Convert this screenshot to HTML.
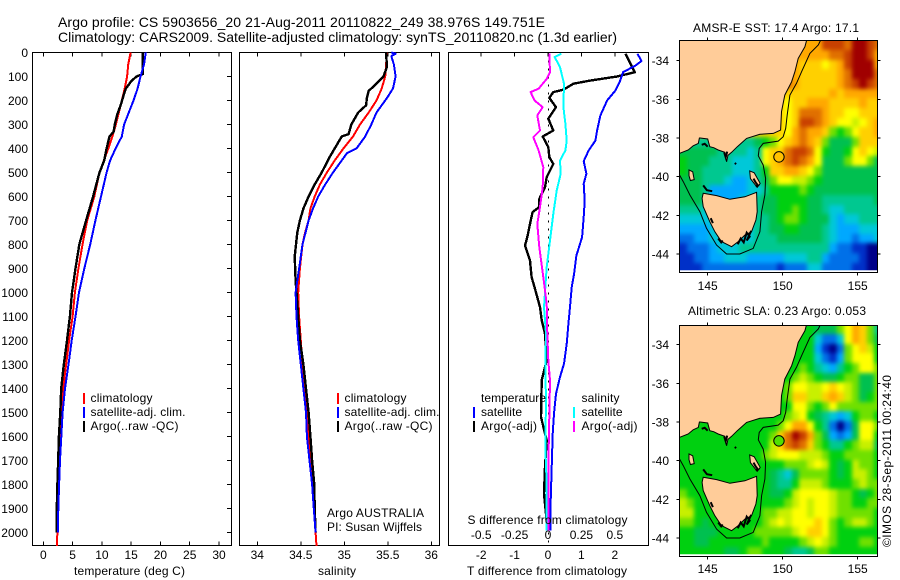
<!DOCTYPE html>
<html><head><meta charset="utf-8"><title>Argo profile</title>
<style>
html,body{margin:0;padding:0;background:#fff}
svg{display:block}
text{font-family:"Liberation Sans",sans-serif;font-size:12px;fill:#000}
.t{font-size:14px}
</style></head>
<body>
<svg id="chart" xmlns="http://www.w3.org/2000/svg" width="900" height="580" viewBox="0 0 900 580">
<text class="t" x="58" y="27" textLength="487">Argo profile: CS 5903656_20 21-Aug-2011 20110822_249 38.976S 149.751E</text>
<text class="t" x="58" y="42" textLength="559">Climatology: CARS2009. Satellite-adjusted climatology: synTS_20110820.nc (1.3d earlier)</text>
<g id="p1"></g>
<g id="p2"></g>
<g id="p3"></g>
<g id="m1"></g>
<g id="m2"></g>
<text x="776" y="32" text-anchor="middle" textLength="166">AMSR-E SST: 17.4 Argo: 17.1</text>
<text x="777" y="315" text-anchor="middle" textLength="178">Altimetric SLA: 0.23 Argo: 0.053</text>
<text transform="translate(891,547) rotate(-90)" textLength="172">©IMOS 28-Sep-2011 00:24:40</text>
<text x="129.5" y="575" text-anchor="middle" textLength="111">temperature (deg C)</text>
<text x="337" y="575" text-anchor="middle" textLength="38">salinity</text>
<text x="547" y="575" text-anchor="middle" textLength="160">T difference from climatology</text>
<text x="327" y="517" textLength="97">Argo AUSTRALIA</text>
<text x="327" y="531" textLength="95">PI: Susan Wijffels</text>
</svg>
<script>
const depthTicks=[0,100,200,300,400,500,600,700,800,900,1000,1100,1200,1300,1400,1500,1600,1700,1800,1900,2000];
const tempTicks=[0,5,10,15,20,25,30];
const salTicks=[34,34.5,35,35.5,36];
const salTickLabels=["34","34.5","35","35.5","36"];
const dTTicks=[-2,-1,0,1,2];
const dSTicks=[-0.5,-0.25,0,0.25,0.5];
const dSTickLabels=["-0.5","-0.25","0","0.25","0.5"];

const tClimD=[0,50,100,150,200,300,350,400,500,600,700,800,900,1000,1100,1200,1300,1400,1500,1600,1700,1800,1900,2000,2056];
const tClimV=[14.9,14.5,14.3,13.9,13.4,12.4,11.8,11.1,9.6,8.7,7.5,6.7,6.0,5.4,5.0,4.4,3.9,3.4,3.1,2.85,2.7,2.6,2.5,2.4,2.3];
const tSatD=[0,50,100,150,200,300,350,400,450,500,600,700,800,900,1000,1100,1200,1300,1400,1500,1600,1700,1800,1900,2000];
const tSatV=[17.5,17.2,16.6,16.1,15.4,13.8,13.4,12.35,11.4,10.8,9.85,8.9,8.0,7.0,6.1,5.5,4.85,4.3,3.7,3.3,3.07,2.85,2.7,2.56,2.5];
const tArgoD=[0,90,100,120,150,180,220,260,300,330,350,400,450,500,600,700,800,900,1000,1100,1200,1300,1400,1500,1600,1700,1800,1900,2000];
const tArgoV=[17.0,17.0,15.9,15,14.1,13.7,13.2,12.6,12.2,12,11.3,10.8,10.4,9.6,8.5,7.3,6.15,5.5,4.9,4.55,4.05,3.5,3.05,2.9,2.67,2.55,2.4,2.3,2.3];

const sClimD=[0,50,100,150,200,250,300,350,400,450,500,550,600,650,700,750,800,900,1000,1100,1200,1300,1400,1500,1600,1700,1800,1900,2000,2056];
const sClimV=[35.49,35.48,35.47,35.43,35.37,35.28,35.18,35.1,34.99,34.89,34.8,34.72,34.66,34.61,34.59,34.55,34.52,34.49,34.47,34.48,34.5,34.52,34.54,34.57,34.59,34.61,34.64,34.66,34.67,34.68];
const sSatD=[0,5,15,50,100,150,190,250,300,350,400,420,450,500,550,600,650,700,800,900,1000,1100,1200,1300,1400,1500,1600,1700,1800,1900,2000];
const sSatV=[35.54,35.59,35.54,35.57,35.59,35.56,35.49,35.37,35.31,35.24,35.14,35.03,34.97,34.87,34.78,34.7,34.64,34.59,34.52,34.48,34.44,34.45,34.47,34.5,34.53,34.56,34.57,34.6,34.63,34.65,34.67];
const sArgoD=[0,60,100,130,160,190,220,250,300,340,350,400,430,500,550,600,650,700,750,850,950,1000,1100,1200,1300,1400,1500,1600,1700,1800,1900,2000];
const sArgoV=[35.48,35.49,35.45,35.37,35.28,35.26,35.25,35.16,35.08,35.05,34.97,34.89,34.84,34.74,34.66,34.59,34.53,34.49,34.46,34.43,34.44,34.45,34.47,34.49,34.53,34.56,34.59,34.61,34.63,34.655,34.66,34.67];

const dTSatD=[5,36,54,82,124,158,200,262,325,367,408,453,505,547,617,686,769,846,922,978,1061,1130,1214,1297,1352,1422,1505,1589,1727,1866,1991];
const dTSatV=[2.68,2.8,2.62,2.25,2.14,2.02,1.77,1.57,1.47,1.42,1.22,1.07,1.15,1.07,1.1,1.07,1.02,0.85,0.78,0.71,0.66,0.61,0.56,0.48,0.36,0.24,0.18,0.14,0.11,0.08,0.08];
const dTArgoD=[5,47,82,100,117,130,155,165,189,228,276,325,350,394,436,464,519,561,610,644,665,714,769,804,867,936,985,1061,1116,1172,1283,1366,1519,1616,1727,1838,1922,1991];
const dTArgoV=[2.32,2.47,2.6,2.07,1.26,0.76,0.46,0.16,0.04,0.24,0.01,0.16,-0.16,0.01,0.04,0.16,-0.04,-0.09,-0.26,-0.26,-0.46,-0.54,-0.62,-0.69,-0.54,-0.49,-0.39,-0.24,-0.19,-0.09,-0.04,-0.19,-0.21,-0.04,-0.09,-0.12,-0.06,-0.02];
const dSSatD=[5,19,61,130,228,297,367,408,450,505,575,672,783,894,1061,1172,1311,1450,1644,1797,1991];
const dSSatV=[0.1,0.05,0.09,0.12,0.115,0.13,0.14,0.13,0.09,0.095,0.065,0.04,0.015,-0.01,-0.03,-0.015,-0.02,-0.015,-0.02,-0.01,-0.01];
const dSArgoD=[5,82,110,151,165,200,228,262,325,353,408,478,561,644,714,811,936,1047,1172,1283,1366,1519,1727,1991];
const dSArgoV=[0.01,0.015,-0.01,-0.07,-0.13,-0.1,-0.04,-0.08,-0.06,-0.11,-0.07,-0.035,-0.04,-0.06,-0.08,-0.065,-0.035,-0.01,-0.005,0.0025,0.015,0.01,0.0025,0.0025];

const heatPalette={"0":"#000088","1":"#0030c8","2":"#0070e8","3":"#00a8ff","4":"#00c8d8","5":"#00c890","6":"#00c050","7":"#00d010","8":"#70e000","9":"#c8f000","a":"#ffff00","b":"#ffd000","c":"#ffa800","d":"#e07000","e":"#c84000","f":"#a00000"};
const sstGrid=[
"ccccccccccccccccc"+"cceeedffed",
"cccccccccccccccc"+"ccccddeffec",
"ccccccccccccccc"+"cbbbabcefffc",
"ccccccccccccccc"+"cbbbbbcdfffd",
"cccccccccccccc"+"dcbbbbbcdefed",
"bbbbbbbbbbbbb"+"bbbbbbbcbccccc",
"bbbbbbbbbbbbb"+"babbcccbbbbcbb",
"bbbbbbbbbbbbb"+"babdddcbbaabbb",
"bbbbbbbbbbbbb"+"babeedcbaa9abc",
"bbbbbbbbbbbbb"+"bacdccb878abbc",
"5555555555"+"678abcdcb86668bbb",
"6666655554"+"5"+"abbdeeda7667aba9",
"7666555444"+"5"+"abcdedca6668aa86",
"7665555444"+"5"+"7bbccba866666666",
"6665554334"+"5"+"68aa998766666666",
"6665333334"+"4"+"5777787666666666",
"6665333344"+"5"+"6677776655555556",
"5554444444"+"5"+"6677876654455555",
"4444444444"+"5"+"5678876664344555",
"3333444444"+"5"+"5667766654333444",
"2233444444"+"5"+"5566666654332334",
"1222344455"+"5"+"5555555553221100",
"112233444333334445532222100",
"111222222222212224422221100"
];
const slaGrid=[
"77777777777777777"+"766688acb85".slice(0,3)+"68acb85",
"77777777777777777"+"74224acb86",
"77777777777777777"+"731028ab97",
"77777777777777777"+"742138aaa7",
"7777777777777777"+"87543578aa8",
"77777777777777"+"7898766788668",
"77777777777777"+"8aa99aba98668",
"77777777777777"+"8bb99bcb98678",
"77777777777777"+"7aa878a888888",
"77777777777777"+"89a7654347887",
"777777777777"+"78acca752026aa8",
"777777777777"+"8bdfec863236aa7",
"777777777777"+"9bdedb875578996",
"77777777777"+"89aaa99987788887",
"7777777777"+"77778889a97679887",
"77777777777"+"7654688887679987",
"77777777777"+"7655799987778988",
"87777777777"+"76679aaaa9887678",
"98777777777"+"77789a9aa9887788",
"99777777777"+"8899aa9aa9888887",
"88767777777"+"89a9aaaba8789987",
"77666777778"+"88889abba8777777",
"77667777777"+"8777789a98777887",
"77777766788"+"7776556887777777"
];
const landColor="#ffcc99";
const mainlandLon=[143.1,143.7,144.03,144.37,144.45,144.5,145.0,145.14,145.4,145.7,146.14,146.26,146.35,146.59,146.97,147.59,148.48,149.37,149.86,149.92,150.14,150.59,150.81,151.03,151.48,151.59,143.1];
const mainlandLat=[-38.8,-38.62,-38.4,-38.28,-38.0,-38.0,-38.05,-38.45,-38.5,-38.62,-38.74,-39.23,-38.9,-38.74,-38.45,-38.02,-37.81,-37.76,-37.59,-36.64,-35.78,-35.09,-34.57,-33.88,-33.28,-32.95,-32.95];
const tasmaniaLon=[144.7,145.59,146.48,147.48,148.26,148.3,148.21,147.92,147.48,147.03,146.59,145.92,145.48,145.14,144.7,144.63];
const tasmaniaLat=[-40.86,-40.98,-41.17,-41.04,-40.81,-41.81,-42.24,-42.85,-43.02,-43.36,-43.62,-43.36,-42.85,-42.33,-41.55,-41.12];
const kingLon=[143.75,144.0,144.1,143.85,143.75];
const kingLat=[-39.65,-39.75,-40.15,-40.2,-39.95];
const flindersLon=[147.8,148.1,148.5,148.3,147.85];
const flindersLat=[-39.7,-39.8,-40.35,-40.55,-40.1];
const shelfLon=[152.52,152.37,151.81,151.26,150.92,150.48,150.3,150.2,150.03,149.7,148.7,148.43,148.37,148.7,148.86,148.81,148.59,148.48,148.03,147.14,146.26,145.59,144.92,144.48,143.81,143.37,143.1];
const shelfLat=[-32.95,-33.19,-33.62,-34.57,-35.17,-35.78,-36.81,-37.5,-37.93,-38.16,-38.28,-38.54,-38.92,-39.4,-40.09,-40.95,-41.81,-42.85,-43.71,-44,-44,-43.54,-42.67,-41.81,-40.95,-40.26,-39.88];
const clutterLon=[[147.0,147.2,147.4,147.6,147.8,147.6,147.9],[145.7,145.9,146.0],[145.2,145.35],[144.7,144.95,145.3],[148.05,148.2,148.35,148.2],[146.1,146.2,146.3],[144.6,144.8,145.0],[146.8,146.9]];
const clutterLat=[[-43.5,-43.2,-43.4,-42.9,-43.1,-43.3,-42.8],[-43.2,-43.4,-43.3],[-42.15,-42.4],[-40.45,-40.7,-40.75],[-40.1,-40.3,-40.45,-40.5],[-38.75,-39.0,-38.7],[-38.35,-38.3,-38.45],[-39.3,-39.35]];
const floatLon=149.751;
const floatLat=-38.976;
const sstFloatColor="#ffc000";
const slaFloatColor="#50e000";
const mapLonTicks=[145,150,155];
const mapLatTicks=[-34,-36,-38,-40,-42,-44];

const SVGNS="http://www.w3.org/2000/svg";
function mk(tag,parent,attrs,txt){
  const el=document.createElementNS(SVGNS,tag);
  for(const k in attrs)el.setAttribute(k,attrs[k]);
  if(txt!==undefined)el.textContent=txt;
  parent.appendChild(el);
  return el;
}
const panelTop=52.5,panelBottom=545.5;
const yDepth=d=>52.5+d*0.24;
const xTemp=v=>43.3+v*5.857;
const xSal=v=>257.3+(v-34)*87;
const xDT=v=>548+v*33.4;
const xDS=v=>548+v*133.6;

function frame(g,x0,x1,name){
  const r=mk('rect',g,{x:x0,y:panelTop,width:x1-x0,height:panelBottom-panelTop,fill:'#fff',stroke:'#000','stroke-width':1,'shape-rendering':'crispEdges'});
  
  
}
function tickLine(g,x1,y1,x2,y2){
  const l=mk('line',g,{x1,y1,x2,y2,stroke:'#000','stroke-width':1,'shape-rendering':'crispEdges'});
  
  
}
function series(g,xs,ds,fx,color,w,name){
  const pts=xs.map((v,i)=>fx(v).toFixed(1)+','+yDepth(ds[i]).toFixed(1)).join(' ');
  const p=mk('polyline',g,{points:pts,fill:'none',stroke:color,'stroke-width':w,'stroke-linejoin':'round','shape-rendering':'crispEdges'});
  
  
}
function label(g,x,y,txt,anchor,name,len){
  const t=mk('text',g,{x,y,'text-anchor':anchor||'start'},txt);
  if(len)t.setAttribute('textLength',len);
  
  
}
function legendEntry(g,mx,tx,y,color,txt,name,len){
  const l=mk('rect',g,{x:mx,y:y-9,width:2,height:11,fill:color,'shape-rendering':'crispEdges'});
  
  
  label(g,tx,y,txt,'start',name,len);
}

/* temperature panel */
const p1=document.getElementById('p1');
frame(p1,32.5,231.5,'temperature-plot-frame');
tempTicks.forEach(v=>{tickLine(p1,xTemp(v),panelTop,xTemp(v),panelTop+4);tickLine(p1,xTemp(v),panelBottom,xTemp(v),panelBottom-4);label(p1,xTemp(v),559,String(v),'middle','temperature-tick-label');});
depthTicks.forEach(d=>{tickLine(p1,231.5,yDepth(d),227,yDepth(d));label(p1,28,yDepth(d)+4.5,String(d),'end','depth-tick-label');});
series(p1,tClimV,tClimD,xTemp,'#ff0000',2,'temperature-climatology-line');
series(p1,tArgoV,tArgoD,xTemp,'#000000',2.4,'temperature-argo-line');
series(p1,tSatV,tSatD,xTemp,'#0000ff',2,'temperature-satellite-line');
legendEntry(p1,83,90.5,402,'#ff0000','climatology','temperature-legend-climatology',62);
legendEntry(p1,83,90.5,416,'#0000ff','satellite-adj. clim.','temperature-legend-satellite',95);
legendEntry(p1,83,90.5,430,'#000000','Argo(..raw -QC)','temperature-legend-argo',88);

/* salinity panel */
const p2=document.getElementById('p2');
frame(p2,239.5,439.5,'salinity-plot-frame');
salTicks.forEach((v,i)=>{tickLine(p2,xSal(v),panelTop,xSal(v),panelTop+4);tickLine(p2,xSal(v),panelBottom,xSal(v),panelBottom-4);label(p2,xSal(v),559,salTickLabels[i],'middle','salinity-tick-label');});
series(p2,sClimV,sClimD,xSal,'#ff0000',2,'salinity-climatology-line');
series(p2,sArgoV,sArgoD,xSal,'#000000',2.4,'salinity-argo-line');
series(p2,sSatV,sSatD,xSal,'#0000ff',2,'salinity-satellite-line');
legendEntry(p2,337,344.5,402,'#ff0000','climatology','salinity-legend-climatology',62);
legendEntry(p2,337,344.5,416,'#0000ff','satellite-adj. clim.','salinity-legend-satellite',95);
legendEntry(p2,337,344.5,430,'#000000','Argo(..raw -QC)','salinity-legend-argo',88);

/* difference panel */
const p3=document.getElementById('p3');
frame(p3,448.5,648.5,'difference-plot-frame');
dTTicks.forEach(v=>{tickLine(p3,xDT(v),panelTop,xDT(v),panelTop+4);label(p3,xDT(v),559,String(v),'middle','t-difference-tick-label');});
dSTicks.forEach((v,i)=>{label(p3,xDS(v),539,dSTickLabels[i],'middle','s-difference-tick-label');});
const zl=mk('line',p3,{x1:xDT(0)+0.5,y1:panelTop,x2:xDT(0)+0.5,y2:panelBottom,stroke:'#000','stroke-width':1,'stroke-dasharray':'2 6','shape-rendering':'crispEdges'});


series(p3,dTArgoV,dTArgoD,xDT,'#000000',2.4,'t-difference-argo-line');
series(p3,dTSatV,dTSatD,xDT,'#0000ff',2,'t-difference-satellite-line');
series(p3,dSSatV,dSSatD,xDS,'#00ffff',2,'s-difference-satellite-line');
series(p3,dSArgoV,dSArgoD,xDS,'#ff00ff',2,'s-difference-argo-line');
label(p3,481,402,'temperature','start','difference-legend-temperature-heading',65);
label(p3,581.5,402,'salinity','start','difference-legend-salinity-heading',38);
legendEntry(p3,473,481,416,'#0000ff','satellite','difference-legend-t-satellite',41);
legendEntry(p3,473,481,430,'#000000','Argo(-adj)','difference-legend-t-argo',56);
legendEntry(p3,573,581.5,416,'#00ffff','satellite','difference-legend-s-satellite',41);
legendEntry(p3,573,581.5,430,'#ff00ff','Argo(-adj)','difference-legend-s-argo',56);
label(p3,547.5,524,'S difference from climatology','middle','s-difference-axis-title',160);

/* maps */
function drawMap(gid,clip,grid,top,bottom,lat34,floatColor,labelY){
  const g=document.getElementById(gid);
  const left=679.5,right=877.5;
  const fx=lon=>707.7+(lon-145)*15;
  const fy=lat=>lat34+(-34-lat)*19.33;
  const defs=mk('defs',g,{});
  const cp=mk('clipPath',defs,{id:clip});
  mk('rect',cp,{x:left,y:top,width:right-left,height:bottom-top});
  const cpHeat=mk('clipPath',defs,{id:clip+'Heat'});
  mk('rect',cpHeat,{x:left,y:top,width:right-left,height:bottom-top-2.2});
  const blur=mk('filter',defs,{id:clip+'Blur',filterUnits:'userSpaceOnUse',x:640,y:0,width:260,height:580,'color-interpolation-filters':'sRGB'});
  mk('feGaussianBlur',blur,{stdDeviation:2.2});
  const heatClip=mk('g',g,{'clip-path':'url(#'+clip+'Heat)'});
  const heat=mk('g',heatClip,{filter:'url(#'+clip+'Blur)'});
  
  
  grid.forEach((row,r)=>{
    for(let c=0;c<row.length;c++){
      let x0=Math.round(fx(143.1+c*0.5)),x1=Math.round(fx(143.6+c*0.5));
      let y0=Math.round(fy(-32.95-r*0.5)),y1=Math.round(fy(-33.45-r*0.5));
      if(c===0)x0-=14;
      if(c===row.length-1)x1+=14;
      if(r===0)y0-=14;
      if(r===grid.length-1)y1+=14;
      const cell=mk('rect',heat,{x:x0,y:y0,width:x1-x0,height:y1-y0,fill:heatPalette[row[c]],'shape-rendering':'crispEdges'});
      
      
    }
  });
  const area=mk('g',g,{'clip-path':'url(#'+clip+')'});
  const poly=(lons,lats,name)=>{
    const pts=lons.map((v,i)=>fx(v).toFixed(1)+','+fy(lats[i]).toFixed(1)).join(' ');
    const p=mk('polygon',area,{points:pts,fill:landColor,stroke:'#000','stroke-width':1});
    
    
  };
  poly(mainlandLon,mainlandLat,'mainland-land');
  poly(tasmaniaLon,tasmaniaLat,'tasmania-land');
  poly(kingLon,kingLat,'king-island-land');
  poly(flindersLon,flindersLat,'flinders-island-land');
  clutterLon.forEach((lons,i)=>{
    const pts=lons.map((v,j)=>fx(v).toFixed(1)+','+fy(clutterLat[i][j]).toFixed(1)).join(' ');
    const p=mk('polyline',area,{points:pts,fill:'none',stroke:'#000','stroke-width':2});
    
    
  });
  const sh=mk('polyline',area,{points:shelfLon.map((v,i)=>fx(v).toFixed(1)+','+fy(shelfLat[i]).toFixed(1)).join(' '),fill:'none',stroke:'#000','stroke-width':1});
  
  
  const fl=mk('circle',area,{cx:fx(floatLon),cy:fy(floatLat),r:5.2,fill:floatColor,stroke:'#000','stroke-width':1});
  
  
  const fr=mk('rect',g,{x:left,y:top,width:right-left,height:bottom-top,fill:'none',stroke:'#000','stroke-width':1,'shape-rendering':'crispEdges'});
  
  
  mapLonTicks.forEach(v=>{
    tickLine(g,fx(v),top,fx(v),top-3);
    tickLine(g,fx(v),bottom,fx(v),bottom+3);
    label(g,fx(v),labelY,String(v),'middle','map-longitude-tick-label');
  });
  mapLatTicks.forEach(v=>{
    tickLine(g,left,fy(v),left-3,fy(v));
    tickLine(g,right,fy(v),right+3,fy(v));
    label(g,669,fy(v)+4.5,String(v),'end','map-latitude-tick-label');
  });
}
drawMap('m1','clipA',sstGrid,40.5,272.5,60.7,sstFloatColor,290);
drawMap('m2','clipB',slaGrid,325.5,556.5,344.7,slaFloatColor,573);
</script>
</body></html>
